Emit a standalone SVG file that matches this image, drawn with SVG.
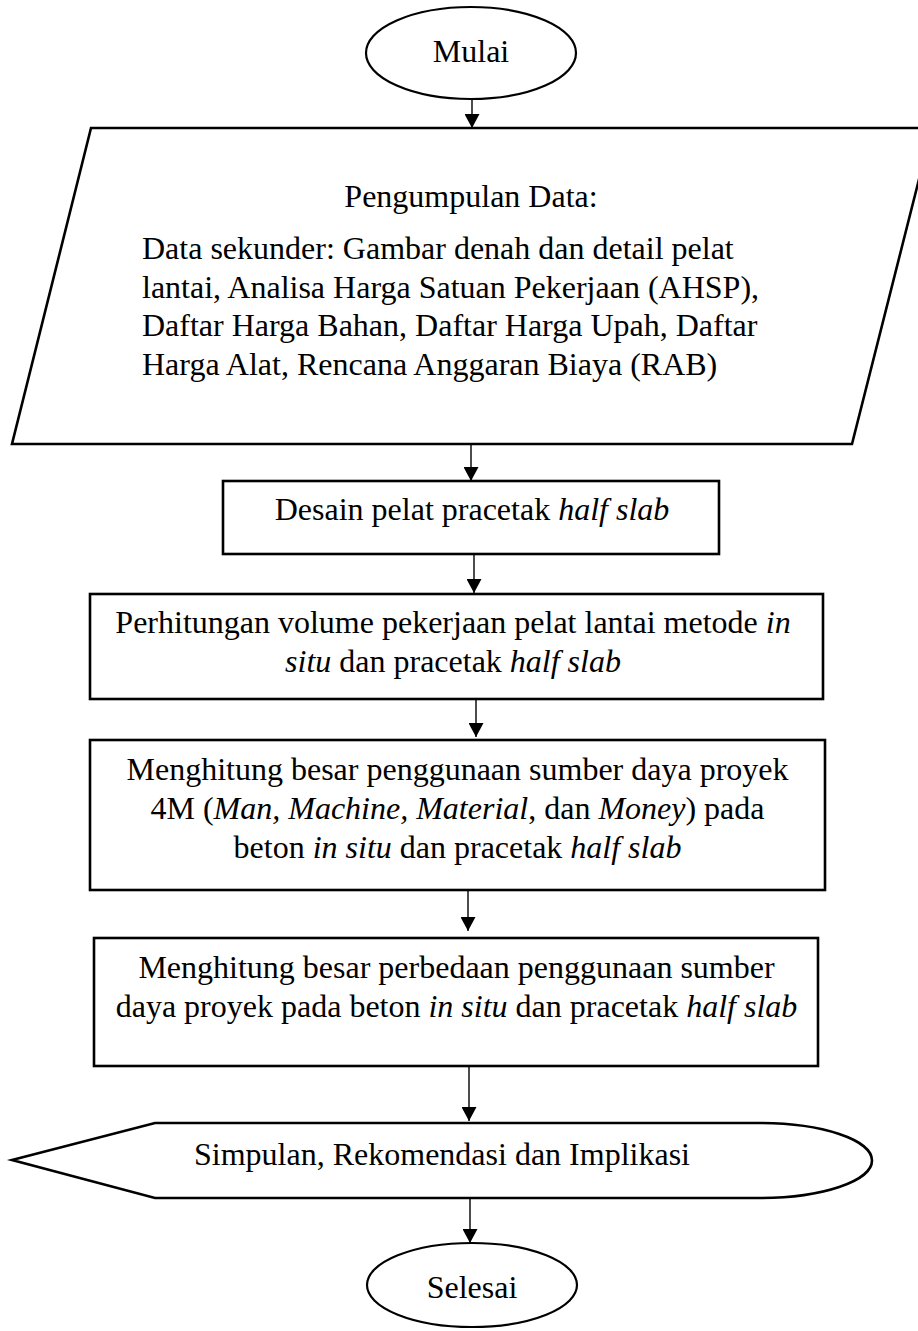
<svg xmlns="http://www.w3.org/2000/svg" width="918" height="1331" viewBox="0 0 918 1331">
<style>
.shape{fill:#fff;stroke:#000;stroke-width:2.6}
.oval{fill:#fff;stroke:#000;stroke-width:2.2}
.t{font-family:"Liberation Serif","Times New Roman",serif;font-size:32px;fill:#000}
.c{text-anchor:middle}
.i{font-style:italic}
.conn{stroke:#000;stroke-width:1.4;fill:none;marker-end:url(#arrow)}
</style>
<defs>
<marker id="arrow" markerUnits="userSpaceOnUse" markerWidth="15" markerHeight="15" refX="14" refY="7.5" orient="auto">
<path d="M0,0 L14,7.5 L0,15 z" fill="#000"/>
</marker>
</defs>
<rect width="918" height="1331" fill="#fff"/>
<g id="connectors">
<line class="conn" x1="472" y1="99" x2="472" y2="128"/>
<line class="conn" x1="471" y1="445" x2="471" y2="481"/>
<line class="conn" x1="474" y1="550" x2="474" y2="593"/>
<line class="conn" x1="476" y1="695" x2="476" y2="737"/>
<line class="conn" x1="468" y1="887" x2="468" y2="931"/>
<line class="conn" x1="469" y1="1060" x2="469" y2="1121"/>
<line class="conn" x1="470" y1="1192" x2="470" y2="1243"/>
</g>
<g id="start">
<ellipse class="oval" cx="471" cy="53" rx="105" ry="46"/>
<text class="t c" x="471" y="62">Mulai</text>
</g>
<g id="input">
<polygon class="shape" points="91,128 932,128 852,444 12,444"/>
<text class="t c" x="471" y="207">Pengumpulan Data:</text>
<text class="t" x="142" y="259">Data sekunder: Gambar denah dan detail pelat</text>
<text class="t" x="142" y="297.5">lantai, Analisa Harga Satuan Pekerjaan (AHSP),</text>
<text class="t" x="142" y="336">Daftar Harga Bahan, Daftar Harga Upah, Daftar</text>
<text class="t" x="142" y="374.5">Harga Alat, Rencana Anggaran Biaya (RAB)</text>
</g>
<g id="design">
<rect class="shape" x="223" y="481" width="496" height="73"/>
<text class="t c" x="472" y="520">Desain pelat pracetak <tspan class="i">half slab</tspan></text>
</g>
<g id="volume">
<rect class="shape" x="90" y="594" width="733" height="105"/>
<text class="t c" x="453" y="633">Perhitungan volume pekerjaan pelat lantai metode <tspan class="i">in</tspan></text>
<text class="t c" x="453" y="672"><tspan class="i">situ</tspan> dan pracetak <tspan class="i">half slab</tspan></text>
</g>
<g id="resources">
<rect class="shape" x="90" y="740" width="735" height="150"/>
<text class="t c" x="457.5" y="780">Menghitung besar penggunaan sumber daya proyek</text>
<text class="t c" x="457.5" y="819">4M (<tspan class="i">Man, Machine, Material</tspan>, dan <tspan class="i">Money</tspan>) pada</text>
<text class="t c" x="457.5" y="858">beton <tspan class="i">in situ</tspan> dan pracetak <tspan class="i">half slab</tspan></text>
</g>
<g id="difference">
<rect class="shape" x="94" y="938" width="724" height="128"/>
<text class="t c" x="456.5" y="978">Menghitung besar perbedaan penggunaan sumber</text>
<text class="t c" x="456.5" y="1017">daya proyek pada beton <tspan class="i">in situ</tspan> dan pracetak <tspan class="i">half slab</tspan></text>
</g>
<g id="conclusion">
<path class="shape" d="M12,1160 L155,1123 L760,1123 A112,37.5 0 0 1 760,1198 L155,1198 Z"/>
<text class="t c" x="442" y="1165">Simpulan, Rekomendasi dan Implikasi</text>
</g>
<g id="end">
<ellipse class="oval" cx="472" cy="1285" rx="105" ry="42"/>
<text class="t c" x="472" y="1298">Selesai</text>
</g>
</svg>
